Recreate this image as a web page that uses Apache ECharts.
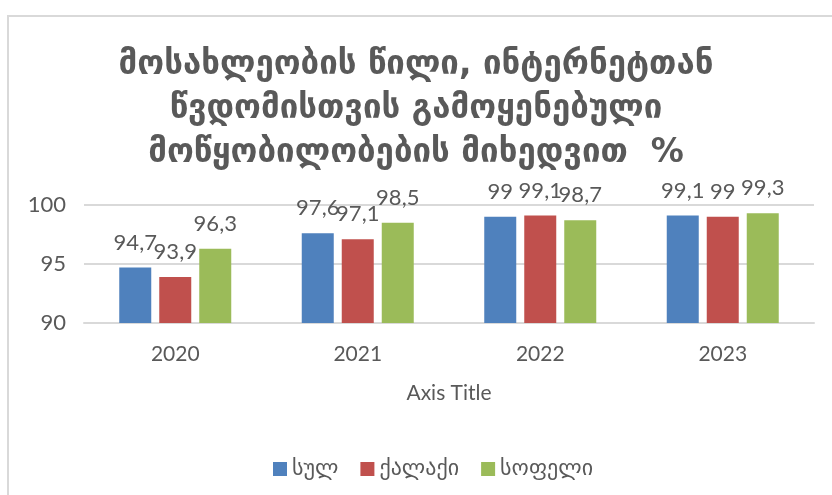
<!DOCTYPE html>
<html>
<head>
<meta charset="utf-8">
<script src="https://cdn.jsdelivr.net/npm/echarts@6/dist/echarts.min.js"></script>
<style>
html,body{margin:0;padding:0;background:#fff;}
#box{position:absolute;left:7px;top:15px;width:840px;height:500px;border:2px solid #d9d9d9;box-sizing:border-box;}
#chart{width:832px;height:495px;}
</style>
</head>
<body>
<div id="box"></div>
<div id="chart"></div>
<script>
// მონაცემები
const years = ['2020', '2021', '2022', '2023'];
const seriesNames = ['სულ', 'ქალაქი', 'სოფელი'];
const total = [94.7, 97.6, 99, 99.1];
const city = [93.9, 97.1, 99.1, 99];
const village = [96.3, 98.5, 98.7, 99.3];
const colors = ['#4F81BD', '#C0504D', '#9BBB59'];

const font = 'Lato, "DejaVu Sans", sans-serif';
const geo = '"DejaVu Sans", sans-serif';
const txt = '#595959';

function fmt(p){ return String(p.value).replace('.', ','); }

function mkSeries(name, data, color){
    return {
        name: name,
        type: 'bar',
        data: data,
        barWidth: 32,
        barGap: '25%',
        itemStyle: { color: color },
        label: {
            show: true,
            position: 'top',
            distance: 14,
            formatter: fmt,
            color: txt,
            fontSize: 22,
            fontFamily: font
        }
    };
}

const myChart = echarts.init(document.getElementById('chart'), null, {renderer:'canvas'});
myChart.setOption({
    animation: false,
    backgroundColor: 'transparent',
    title: {
        text: 'მოსახლეობის წილი, ინტერნეტთან\nწვდომისთვის გამოყენებული\nმოწყობილობების მიხედვით  %',
        left: 'center',
        top: 38,
        textStyle: {
            color: txt,
            fontSize: 33,
            fontWeight: 'bold',
            fontFamily: geo,
            lineHeight: 44
        }
    },
    legend: {
        top: 453,
        left: 268,
        itemWidth: 14,
        itemHeight: 14,
        itemGap: 22,
        icon: 'rect',
        textStyle: { color: txt, fontSize: 22, fontFamily: geo },
        data: seriesNames
    },
    grid: { left: 84, right: 18, top: 205, bottom: 172, containLabel: false },
    xAxis: {
        type: 'category',
        data: years,
        name: 'Axis Title',
        nameLocation: 'middle',
        nameGap: 60,
        nameTextStyle: { color: txt, fontSize: 21, fontFamily: font },
        axisLine: { show: true, lineStyle: { color: '#d9d9d9', width: 2 } },
        axisTick: { show: false },
        axisLabel: { color: txt, fontSize: 21, fontFamily: font, margin: 21 }
    },
    yAxis: {
        type: 'value',
        min: 90,
        max: 100,
        interval: 5,
        axisLine: { show: false },
        axisTick: { show: false },
        splitLine: { lineStyle: { color: '#d9d9d9', width: 2 } },
        axisLabel: { color: txt, fontSize: 22, fontFamily: font, margin: 18 }
    },
    series: [
        mkSeries(seriesNames[0], total, colors[0]),
        mkSeries(seriesNames[1], city, colors[1]),
        mkSeries(seriesNames[2], village, colors[2])
    ]
});
</script>
</body>
</html>
